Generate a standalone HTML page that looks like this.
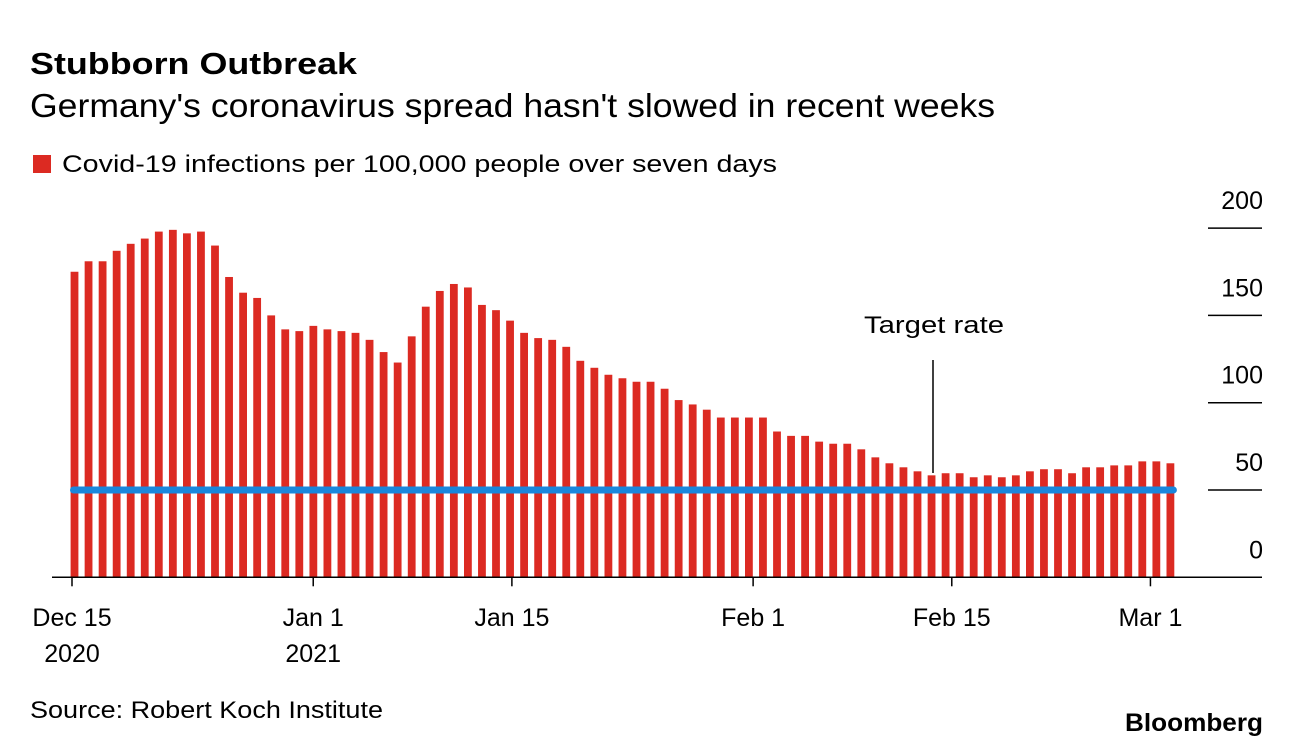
<!DOCTYPE html>
<html><head><meta charset="utf-8"><style>
html,body{margin:0;padding:0;background:#fff;}
svg{display:block;font-family:"Liberation Sans",Arial,sans-serif;}
</style></head><body>
<svg id="chart" width="1292" height="748" viewBox="0 0 1292 748" xmlns="http://www.w3.org/2000/svg">
<rect width="1292" height="748" fill="#fff"/>
<text x="30" y="74" font-size="31" font-weight="bold" textLength="327" lengthAdjust="spacingAndGlyphs" fill="#000">Stubborn Outbreak</text>
<text x="30" y="117" font-size="33" textLength="965" lengthAdjust="spacingAndGlyphs" fill="#000">Germany's coronavirus spread hasn't slowed in recent weeks</text>
<g>
<rect x="33" y="155" width="18" height="18" fill="#dc2a22"/>
<text x="62" y="172" font-size="24.5" textLength="715" lengthAdjust="spacingAndGlyphs" fill="#000">Covid-19 infections per 100,000 people over seven days</text>
</g>
<g id="grid"></g>
<g id="bars"></g>
<g id="axis"></g>
<line id="target" stroke="#1a87dc" stroke-width="7" stroke-linecap="round"/>
<line x1="933" y1="360" x2="933" y2="473" stroke="#000" stroke-width="1.5"/>
<text x="934" y="333" font-size="24.5" text-anchor="middle" textLength="140" lengthAdjust="spacingAndGlyphs" fill="#000">Target rate</text>
<text x="30" y="718" font-size="24" textLength="353" lengthAdjust="spacingAndGlyphs" fill="#000">Source: Robert Koch Institute</text>
<text x="1263" y="731" font-size="25" font-weight="bold" text-anchor="end" textLength="138" lengthAdjust="spacingAndGlyphs" fill="#000">Bloomberg</text>
</svg>
<script>
const values = [175,181,181,187,191,194,198,199,197,198,190,172,163,160,150,142,141,144,142,141,140,136,129,123,138,155,164,168,166,156,153,147,140,137,136,132,124,120,116,114,112,112,108,101.5,99,96,91.5,91.5,91.5,91.5,83.5,81,81,77.7,76.5,76.5,73.3,68.7,65.3,63,60.7,58.4,59.6,59.6,57.3,58.4,57.3,58.4,60.7,61.9,61.9,59.6,63,63,64.1,64.1,66.4,66.4,65.3];
const yTicks = [0,50,100,150,200];
const xTickLabels = ["Dec 15","Jan 1","Jan 15","Feb 1","Feb 15","Mar 1"];
const xTickDays = [0,17,31,48,62,76];
const xTickYears = ["2020","2021","","","",""];
const targetRate = 50;

const NS="http://www.w3.org/2000/svg";
const y0=577.3, pxPerUnit=1.746;
const yScale=v=>y0-v*pxPerUnit;
const barX0=74.5, barPitch=14.05;
const xBar=i=>barX0+i*barPitch;
const tickX0=72, tickPitch=14.19;
const xTick=d=>tickX0+d*tickPitch;
function mk(tag,attrs,parent){const e=document.createElementNS(NS,tag);for(const k in attrs)e.setAttribute(k,attrs[k]);parent.appendChild(e);return e;}

const grid=document.getElementById('grid');
yTicks.forEach(t=>{
  if(t>0){
    const l=mk('line',{x1:1208,x2:1262,y1:yScale(t),y2:yScale(t),stroke:'#000','stroke-width':1.5},grid);
    
    
  }
  const tx=mk('text',{x:1263,y:yScale(t)-19,'font-size':25,'text-anchor':'end',fill:'#000'},grid);
  tx.textContent=t;
  
  
});

const bars=document.getElementById('bars');
values.forEach((v,i)=>{
  const r=mk('rect',{x:xBar(i)-3.9,y:yScale(v),width:7.8,height:v*pxPerUnit,fill:'#dc2a22'},bars);
  
  
});

const axis=document.getElementById('axis');
const al=mk('line',{x1:52,x2:1262,y1:y0,y2:y0,stroke:'#000','stroke-width':1.5},axis);


xTickDays.forEach((d,i)=>{
  const x=xTick(d);
  const t=mk('line',{x1:x,x2:x,y1:y0,y2:y0+9,stroke:'#000','stroke-width':1.5},axis);
  
  
  const lb=mk('text',{x:x,y:626,'font-size':25,'text-anchor':'middle',fill:'#000'},axis);
  lb.textContent=xTickLabels[i];
  
  
  if(xTickYears[i]){
    const yr=mk('text',{x:x,y:662,'font-size':25,'text-anchor':'middle',fill:'#000'},axis);
    yr.textContent=xTickYears[i];
    
    
  }
});

const tl=document.getElementById('target');
tl.setAttribute('x1',xBar(0)-1);
tl.setAttribute('x2',xBar(values.length-1)+3);
tl.setAttribute('y1',yScale(targetRate));
tl.setAttribute('y2',yScale(targetRate));
</script>
</body></html>
